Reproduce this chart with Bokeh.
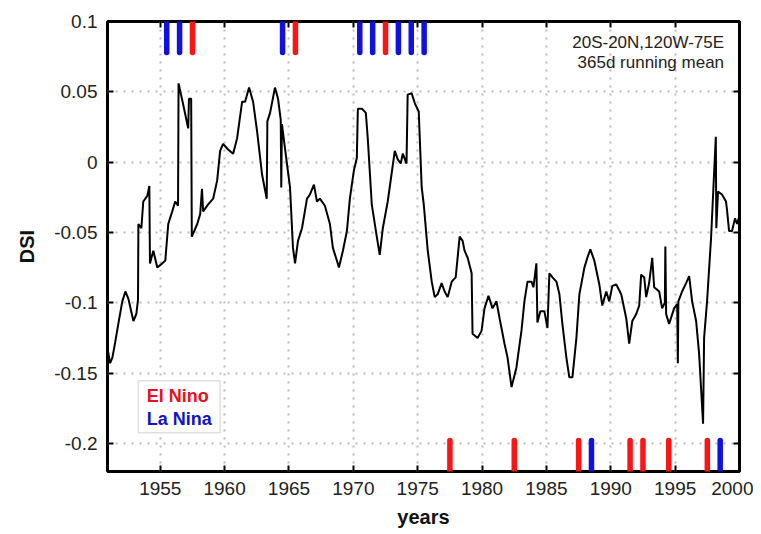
from bokeh.plotting import figure
from bokeh.models import (Range1d, LinearAxis, FixedTicker, BoxAnnotation, Label)
from bokeh.embed import file_html
from bokeh.resources import INLINE

# ---- data ----
years = [1950.95, 1951.1, 1951.28, 1951.5, 1951.74, 1952.05, 1952.29, 1952.52, 1952.91, 1953.14,
         1953.27, 1953.3, 1953.53, 1953.68, 1953.99, 1954.15, 1954.2, 1954.46, 1954.77, 1955.16,
         1955.39, 1955.62, 1955.93, 1956.16, 1956.38, 1956.42, 1956.78, 1957.17, 1957.23, 1957.40,
         1957.45, 1957.87, 1958.10, 1958.24, 1958.33, 1958.72, 1959.11, 1959.42, 1959.65, 1959.88,
         1960.27, 1960.66, 1960.97, 1961.36, 1961.59, 1961.90, 1962.21, 1962.52, 1962.91, 1963.27,
         1963.32, 1963.53, 1963.91, 1964.15, 1964.36, 1964.40, 1964.45, 1964.84, 1965.08, 1965.31,
         1965.47, 1965.70, 1966.01, 1966.40, 1966.63, 1966.94, 1967.17, 1967.40, 1967.79, 1968.18,
         1968.41, 1968.72, 1968.88, 1969.19, 1969.50, 1969.73, 1970.04, 1970.27, 1970.35, 1970.66,
         1970.97, 1971.12, 1971.43, 1971.82, 1972.05, 1972.29, 1972.67, 1973.22, 1973.45, 1973.68,
         1973.84, 1974.13, 1974.22, 1974.53, 1974.77, 1975.08, 1975.31, 1975.47, 1975.78, 1976.09,
         1976.32, 1976.55, 1976.86, 1977.09, 1977.33, 1977.64, 1977.95, 1978.26, 1978.49, 1978.64,
         1978.88, 1979.19, 1979.26, 1979.65, 1979.96, 1980.19, 1980.50, 1980.81, 1981.12, 1981.36,
         1981.74, 1981.98, 1982.29, 1982.67, 1983.06, 1983.29, 1983.53, 1983.84, 1983.99, 1984.22,
         1984.30, 1984.53, 1984.84, 1985.08, 1985.23, 1985.47, 1985.78, 1986.01, 1986.24, 1986.55,
         1986.78, 1987.02, 1987.33, 1987.56, 1987.95, 1988.18, 1988.41, 1988.72, 1989.11, 1989.34,
         1989.65, 1989.88, 1990.12, 1990.43, 1990.81, 1991.20, 1991.43, 1991.67, 1991.98, 1992.21,
         1992.36, 1992.60, 1992.75, 1992.98, 1993.22, 1993.37, 1993.76, 1993.99, 1994.20, 1994.24,
         1994.30, 1994.53, 1994.92, 1995.16, 1995.21, 1995.25, 1995.54, 1995.85, 1996.09, 1996.32,
         1996.63, 1996.86, 1997.17, 1997.25, 1997.48, 1997.79, 1998.16, 1998.20, 1998.33, 1998.64,
         1998.95, 1999.02, 1999.19, 1999.42, 1999.65, 1999.81, 2000.0]
dsi = [-0.135, -0.143, -0.139, -0.128, -0.115, -0.099, -0.092, -0.097, -0.113, -0.108,
       -0.098, -0.044, -0.047, -0.028, -0.024, -0.017, -0.072, -0.063, -0.075, -0.072,
       -0.070, -0.044, -0.035, -0.028, -0.031, 0.056, 0.041, 0.024, 0.045, 0.045,
       -0.053, -0.044, -0.037, -0.019, -0.035, -0.030, -0.026, -0.013, 0.008, 0.013,
       0.009, 0.006, 0.017, 0.043, 0.043, 0.053, 0.043, 0.022, -0.009, -0.026,
       0.029, 0.035, 0.053, 0.045, 0.030, -0.018, 0.027, -0.001, -0.018, -0.061,
       -0.072, -0.056, -0.047, -0.026, -0.023, -0.016, -0.028, -0.026, -0.031, -0.044,
       -0.061, -0.070, -0.075, -0.063, -0.049, -0.026, -0.006, 0.003, 0.038, 0.038,
       0.035, 0.017, -0.030, -0.053, -0.066, -0.047, -0.028, 0.008, 0.002, -0.001,
       0.006, -0.001, 0.048, 0.049, 0.042, 0.036, -0.018, -0.030, -0.063, -0.085,
       -0.096, -0.094, -0.086, -0.092, -0.096, -0.085, -0.082, -0.053, -0.056, -0.063,
       -0.068, -0.079, -0.122, -0.125, -0.120, -0.104, -0.095, -0.104, -0.099, -0.111,
       -0.129, -0.139, -0.160, -0.146, -0.120, -0.099, -0.085, -0.085, -0.089, -0.072,
       -0.114, -0.106, -0.106, -0.118, -0.079, -0.082, -0.085, -0.094, -0.115, -0.139,
       -0.153, -0.153, -0.125, -0.094, -0.075, -0.068, -0.062, -0.070, -0.087, -0.102,
       -0.092, -0.099, -0.088, -0.087, -0.094, -0.111, -0.129, -0.113, -0.108, -0.102,
       -0.080, -0.082, -0.096, -0.086, -0.068, -0.089, -0.092, -0.104, -0.100, -0.060,
       -0.108, -0.115, -0.104, -0.101, -0.143, -0.099, -0.092, -0.086, -0.081, -0.099,
       -0.113, -0.136, -0.186, -0.125, -0.099, -0.054, 0.018, -0.047, -0.021, -0.023,
       -0.028, -0.033, -0.049, -0.049, -0.040, -0.044, -0.038]

el_nino_top = [1957.5, 1965.5, 1972.5]
la_nina_top = [1955.5, 1956.5, 1964.5, 1970.5, 1971.5, 1973.5, 1974.5, 1975.5]
el_nino_bottom = [1977.5, 1982.5, 1987.5, 1991.5, 1992.5, 1994.5, 1997.5]
la_nina_bottom = [1988.5, 1998.5]

x_ticks = [1955, 1960, 1965, 1970, 1975, 1980, 1985, 1990, 1995, 2000]
y_ticks = [-0.2, -0.15, -0.1, -0.05, 0, 0.05, 0.1]
y_tick_labels = ["-0.2", "-0.15", "-0.1", "-0.05", "0", "0.05", "0.1"]

X0, X1 = 1950.9, 2000.0
Y0, Y1 = -0.22, 0.1
TOP_BAND = (0.1, 0.078)
BOT_BAND = (-0.22, -0.198)

RED = "#ff1414"
BLUE = "#1010e0"
FONT = "Liberation Sans"

p = figure(width=753, height=534, output_backend="svg", toolbar_location=None,
           x_range=Range1d(X0, X1), y_range=Range1d(Y0, Y1),
           min_border_left=107, min_border_right=14, min_border_top=21, min_border_bottom=63)
p.background_fill_color = "white"
p.border_fill_color = "white"
p.outline_line_color = "black"
p.outline_line_width = 3

# grid
p.xgrid.ticker = FixedTicker(ticks=x_ticks)
p.ygrid.ticker = FixedTicker(ticks=y_ticks)
for g in (p.xgrid[0], p.ygrid[0]):
    g.grid_line_color = "#bdbdbd"
    g.grid_line_width = 2
    g.grid_line_dash = "2 6"

def style_axis(ax):
    ax.axis_line_color = None
    ax.major_tick_in = 6
    ax.major_tick_out = 0
    ax.major_tick_line_width = 2
    ax.major_tick_line_color = "black"
    ax.minor_tick_line_color = None
    ax.major_label_text_font = FONT
    ax.major_label_text_font_size = "19px"
    ax.major_label_text_color = "#222222"

xa = p.xaxis[0]
xa.ticker = FixedTicker(ticks=x_ticks)
style_axis(xa)
xa.major_label_standoff = 10
xa.axis_label = "years"
xa.axis_label_text_font = FONT
xa.axis_label_text_font_style = "bold"
xa.axis_label_text_font_size = "20px"
xa.axis_label_standoff = 8
xa.axis_label_text_color = "#111111"

ya = p.yaxis[0]
ya.ticker = FixedTicker(ticks=y_ticks)
style_axis(ya)
ya.major_label_standoff = 10
ya.major_label_overrides = {t: s for t, s in zip(y_ticks, y_tick_labels)}
ya.axis_label = "DSI"
ya.axis_label_text_font = FONT
ya.axis_label_text_font_style = "bold"
ya.axis_label_text_font_size = "20px"
ya.axis_label_standoff = 13
ya.axis_label_text_color = "#111111"

top_ax = LinearAxis(ticker=FixedTicker(ticks=x_ticks),
                    major_label_overrides={t: "" for t in x_ticks})
style_axis(top_ax)
top_ax.major_label_text_font_size = "1px"
top_ax.major_label_standoff = 0
p.add_layout(top_ax, "above")

right_ax = LinearAxis(ticker=FixedTicker(ticks=y_ticks),
                      major_label_overrides={t: "" for t in y_ticks})
style_axis(right_ax)
right_ax.major_label_text_font_size = "1px"
right_ax.major_label_standoff = 0
p.add_layout(right_ax, "right")

# event markers
def bars(xs, band, color):
    p.segment(x0=xs, x1=xs, y0=[band[0]] * len(xs), y1=[band[1]] * len(xs),
              line_color=color, line_width=5.5, line_cap="round")

bars(la_nina_top, TOP_BAND, BLUE)
bars(el_nino_top, TOP_BAND, RED)
bars(el_nino_bottom, BOT_BAND, RED)
bars(la_nina_bottom, BOT_BAND, BLUE)

# DSI curve
p.line(years, dsi, line_color="black", line_width=2)

# annotation text
p.add_layout(Label(x=1998.8, y=0.085, text="20S-20N,120W-75E", text_align="right",
                   text_baseline="middle", text_font=FONT, text_font_size="17px",
                   text_color="#222222"))
p.add_layout(Label(x=1998.8, y=0.0705, text="365d running mean", text_align="right",
                   text_baseline="middle", text_font=FONT, text_font_size="17px",
                   text_color="#222222"))

# legend box
p.add_layout(BoxAnnotation(left=1953.29, right=1959.65, top=-0.1555, bottom=-0.1925,
                           fill_color="white", fill_alpha=1.0, line_color="#999999",
                           line_width=1.5, level="annotation"))
p.add_layout(Label(x=1953.95, y=-0.166, text="El Nino", text_align="left", text_baseline="middle",
                   text_font=FONT, text_font_style="bold", text_font_size="18px",
                   text_color="#e8101c", level="overlay"))
p.add_layout(Label(x=1953.95, y=-0.183, text="La Nina", text_align="left", text_baseline="middle",
                   text_font=FONT, text_font_style="bold", text_font_size="18px",
                   text_color="#1212c8", level="overlay"))

open("out.html", "w").write(file_html(p, INLINE))
